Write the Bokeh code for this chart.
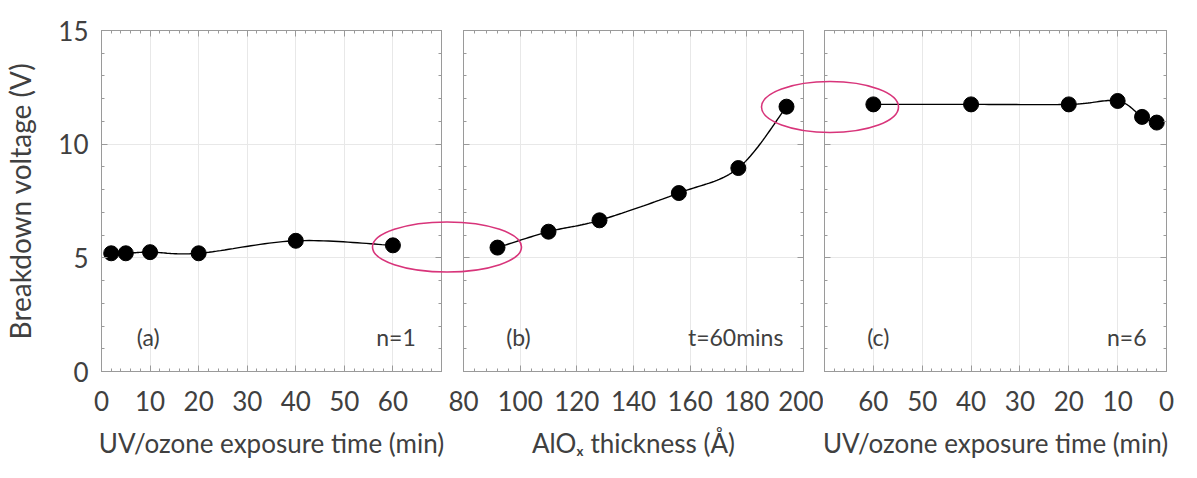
import numpy as np
from bokeh.plotting import figure
from bokeh.layouts import GridBox
from bokeh.models import (Range1d, LinearAxis, Label, FixedTicker, CustomJSTickFormatter)
from bokeh.embed import file_html
from bokeh.resources import INLINE

# ---------------- data ----------------
a_time = [2, 5, 10, 20, 40, 60]
a_volt = [5.2, 5.2, 5.25, 5.2, 5.75, 5.55]

b_thick = [92, 110, 128, 156, 177, 194]
b_volt = [5.45, 6.15, 6.65, 7.85, 8.95, 11.65]

c_time = [60, 40, 20, 10, 5, 2]
c_volt = [11.75, 11.75, 11.75, 11.9, 11.2, 10.95]

y_ticks = [0, 5, 10, 15]
a_ticks = [0, 10, 20, 30, 40, 50, 60]
b_ticks = [80, 100, 120, 140, 160, 180, 200]
c_ticks = [0, 10, 20, 30, 40, 50, 60]

# ---------------- style / layout ----------------
FONT = "Lato"
TXT = "#404040"
FRAME_TOP = 30
FRAME_H = 341
BOTTOM = 99
PINK = "#d8347a"
GRID = "#e8e8e8"
EDGE = "#9a9a9a"

panels = {
    "a": dict(xr=(0, 70), bl=101, fw=340, br=6),
    "b": dict(xr=(80, 200), bl=16, fw=340, br=20),
    "c": dict(xr=(70, 0), bl=1, fw=342, br=24),
}
TOTAL_W = sum(d["bl"] + d["fw"] + d["br"] for d in panels.values())
# page-pixel extent of the plotting area (left frame edge of (a) to right edge of (c))
AREA_L = panels["a"]["bl"]
AREA_R = TOTAL_W - panels["c"]["br"]

# highlight ellipses on a transparent overlay (page pixels: cx, cy, width, height)
ell_cx = [446.5, 829.5]
ell_cy = [246.5, 106.5]
ell_w = [149, 137]
ell_h = [50, 51]


def smooth(xs, ys, n=24):
    P = np.column_stack([xs, ys]).astype(float)
    P = np.vstack([P[0], P, P[-1]])
    out = []
    t = np.linspace(0, 1, n)[:, None]
    for i in range(1, len(P) - 2):
        p0, p1, p2, p3 = P[i - 1], P[i], P[i + 1], P[i + 2]
        c1 = p1 + (p2 - p0) / 6.0
        c2 = p2 - (p3 - p1) / 6.0
        seg = (1 - t) ** 3 * p1 + 3 * (1 - t) ** 2 * t * c1 + 3 * (1 - t) * t ** 2 * c2 + t ** 3 * p2
        out.append(seg if i == 1 else seg[1:])
    S = np.vstack(out)
    return S[:, 0], S[:, 1]


empty_fmt = CustomJSTickFormatter(code="return ''")


def style_axis(ax, ticks, minor, labels=True):
    ax.ticker = FixedTicker(ticks=ticks, minor_ticks=minor)
    ax.axis_line_color = EDGE
    ax.major_tick_line_color = EDGE
    ax.minor_tick_line_color = EDGE
    ax.major_tick_in = 6
    ax.major_tick_out = 0
    ax.minor_tick_in = 3
    ax.minor_tick_out = 0
    ax.major_label_text_font = FONT
    ax.major_label_text_font_size = "26px"
    ax.major_label_text_color = TXT
    ax.axis_label_text_font = FONT
    ax.axis_label_text_font_size = "26px"
    ax.axis_label_text_font_style = "normal"
    ax.axis_label_text_color = TXT
    if not labels:
        ax.formatter = empty_fmt
        ax.major_label_standoff = 0
        ax.major_label_text_font_size = "1px"


def make_panel(k, xticks, xminor, xlabel, xs, ys, show_y, texts):
    d = panels[k]
    p = figure(frame_width=d["fw"], frame_height=FRAME_H,
               x_range=Range1d(*d["xr"]), y_range=Range1d(0, 15),
               toolbar_location=None, output_backend="svg",
               min_border_left=d["bl"], min_border_right=d["br"],
               min_border_top=FRAME_TOP, min_border_bottom=BOTTOM)
    p.outline_line_color = EDGE
    p.background_fill_color = "white"
    p.border_fill_color = "white"
    p.xgrid.ticker = FixedTicker(ticks=xticks)
    p.ygrid.ticker = FixedTicker(ticks=y_ticks)
    p.xgrid.grid_line_color = GRID
    p.ygrid.grid_line_color = GRID

    yminor = list(range(0, 16))
    style_axis(p.xaxis[0], xticks, xminor)
    p.xaxis[0].axis_label = xlabel
    p.xaxis[0].major_label_standoff = 19
    p.xaxis[0].axis_label_standoff = 13
    style_axis(p.yaxis[0], y_ticks, yminor, labels=show_y)
    if show_y:
        p.yaxis[0].axis_label = "Breakdown voltage (V)"
        p.yaxis[0].axis_label_text_font_size = "28px"
        p.yaxis[0].major_label_standoff = 13
        p.yaxis[0].axis_label_standoff = 18

    top = LinearAxis()
    style_axis(top, xticks, xminor, labels=False)
    p.add_layout(top, "above")
    right = LinearAxis()
    style_axis(right, y_ticks, yminor, labels=False)
    p.add_layout(right, "right")

    sx, sy = smooth(xs, ys)
    p.line(sx, sy, line_color="black", line_width=1.4)
    p.scatter(xs, ys, size=15, color="black")

    for (tx, ty, txt, align) in texts:
        p.add_layout(Label(x=tx, y=ty, text=txt, text_align=align,
                           text_baseline="middle", text_font=FONT,
                           text_font_size="23px", text_color=TXT))
    return p


pa = make_panel("a", a_ticks, list(range(0, 71, 2)), "UV/ozone exposure time (min)",
                a_time, a_volt, True,
                [(9.6, 1.5, "(a)", "center"), (64.7, 1.5, "n=1", "right")])
pb = make_panel("b", b_ticks, list(range(80, 201, 4)), "AlOₓ thickness (Å)",
                b_thick, b_volt, False,
                [(99.4, 1.5, "(b)", "center"), (192.9, 1.5, "t=60mins", "right")])
pc = make_panel("c", c_ticks, list(range(0, 71, 2)), "UV/ozone exposure time (min)",
                c_time, c_volt, False,
                [(59.0, 1.5, "(c)", "center"), (4.1, 1.5, "n=6", "right")])

# transparent overlay whose frame spans the plotting area of all three panels
# (the grid aligns its frame with the panels' frames); units are page pixels
ov = figure(frame_width=AREA_R - AREA_L, frame_height=FRAME_H,
            x_range=Range1d(AREA_L, AREA_R),
            y_range=Range1d(FRAME_TOP + FRAME_H, FRAME_TOP),
            toolbar_location=None, output_backend="svg",
            x_axis_type=None, y_axis_type=None,
            min_border=0, min_border_left=0, min_border_right=0,
            min_border_top=0, min_border_bottom=0)
ov.outline_line_color = None
ov.background_fill_color = None
ov.border_fill_color = None
ov.grid.visible = False
ov.ellipse(x=ell_cx, y=ell_cy, width=ell_w, height=ell_h, fill_color=None,
           line_color=PINK, line_width=1.6)

layout = GridBox(children=[(pa, 0, 0), (pb, 0, 1), (pc, 0, 2), (ov, 0, 0, 1, 3)])
open("out.html", "w").write(file_html(layout, INLINE))
